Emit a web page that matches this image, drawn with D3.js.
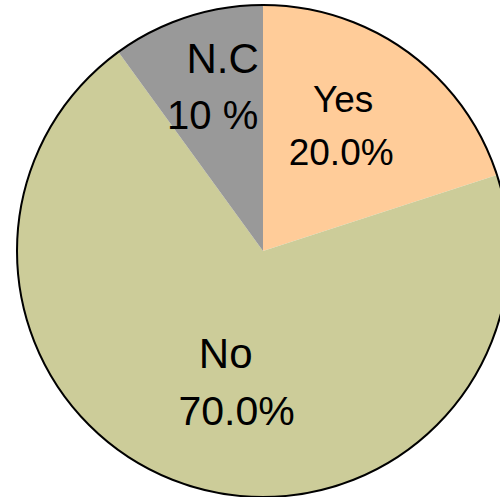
<!DOCTYPE html>
<html>
<head>
<meta charset="utf-8">
<script src="https://cdn.jsdelivr.net/npm/d3@7/dist/d3.min.js"></script>
<style>
  html, body { margin: 0; padding: 0; background: #fff; }
  svg { display: block; }
</style>
</head>
<body>
<svg id="chart" width="500" height="497"></svg>
<script>
// Data
const categories = ["Yes", "No", "N.C"];
const values = [20, 70, 10];
const valueLabels = ["20.0%", "70.0%", "10 %"];
const colors = ["#FFCC99", "#CCCC99", "#999999"];

const width = 500, height = 497;
const cx = 263, cy = 251, radius = 246;

// Label layout (offsets from slice centroid)
const labelRadius = 150;
const layout = [
  { lines: [{ dx: -8, dy: -18, size: 37 }, { dx: -10, dy: 35, size: 37 }] },
  { lines: [{ dx: 9, dy: -26, size: 42 }, { dx: 20, dy: 31, size: 41 }] },
  { lines: [{ dx: 6, dy: -35, size: 42 }, { dx: -4, dy: 21, size: 40 }] }
];

const svg = d3.select("#chart");
const g = svg.append("g").attr("transform", `translate(${cx},${cy})`);

const pie = d3.pie().sort(null).value(d => d)(values);
const arc = d3.arc().innerRadius(0).outerRadius(radius);
const labelArc = d3.arc().innerRadius(labelRadius).outerRadius(labelRadius);

g.selectAll("path.slice")
  .data(pie)
  .join("path")
  .attr("class", "slice")
  .attr("d", arc)
  .attr("fill", (d, i) => colors[i]);

g.append("circle")
  .attr("r", radius)
  .attr("fill", "none")
  .attr("stroke", "#000")
  .attr("stroke-width", 2);

pie.forEach((d, i) => {
  const [x, y] = labelArc.centroid(d);
  const texts = [categories[i], valueLabels[i]];
  layout[i].lines.forEach((ln, j) => {
    g.append("text")
      .attr("x", x + ln.dx)
      .attr("y", y + ln.dy)
      .attr("text-anchor", "middle")
      .attr("font-family", "'Liberation Sans', Arial, sans-serif")
      .attr("font-size", ln.size)
      .attr("fill", "#000")
      .text(texts[j]);
  });
});
</script>
</body>
</html>
